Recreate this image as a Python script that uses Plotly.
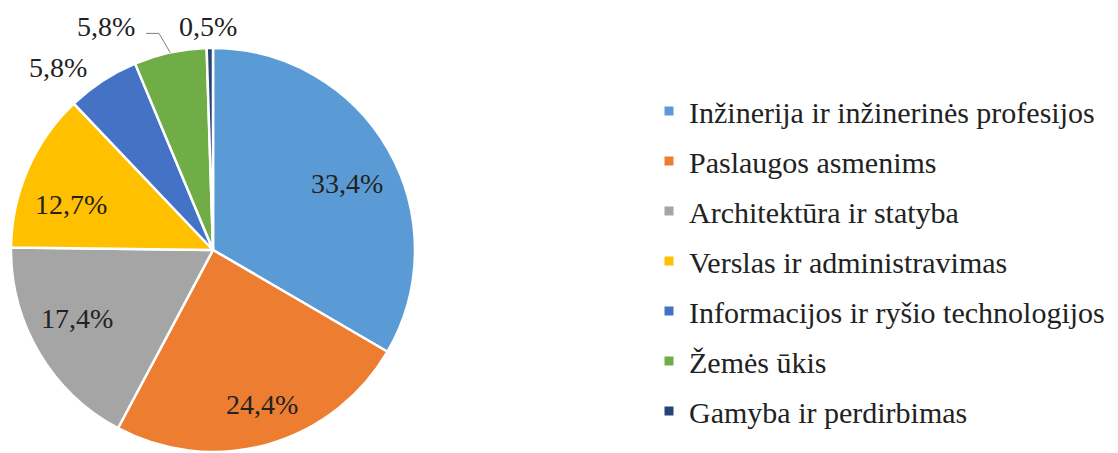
import math
import plotly.graph_objects as go

categories = [
    "Inžinerija ir inžinerinės profesijos",
    "Paslaugos asmenims",
    "Architektūra ir statyba",
    "Verslas ir administravimas",
    "Informacijos ir ryšio technologijos",
    "Žemės ūkis",
    "Gamyba ir perdirbimas",
]
values = [33.4, 24.4, 17.4, 12.7, 5.8, 5.8, 0.5]
colors = ["#5B9BD5", "#ED7D31", "#A5A5A5", "#FFC000", "#4472C4", "#70AD47", "#264478"]
label_outside = [False, False, False, False, True, True, True]

W, H = 1118, 453
OFF = 8  # page body margin in the browser
FONT = "Liberation Serif"
TXT = "#222222"

# pie geometry in screen pixels
CX, CY, R = 213, 250, 202
# label placement styling (radial factor + pixel nudges)
K_IN, K_OUT = 0.77, 1.12
nudges = [(-1, 11), (7, 5), (-2, -11), (1, 17), (-31, 7), (-59, -2), (-1, 3)]


def px(x):
    return (x - OFF) / W


def py(y):
    return 1 - (y - OFF) / H


labels_txt = [f"{v:.1f}".replace(".", ",") + "%" for v in values]

fig = go.Figure()
fig.add_trace(go.Pie(
    labels=categories,
    values=values,
    textinfo="none",
    sort=False,
    direction="clockwise",
    rotation=0,
    marker=dict(colors=colors, line=dict(color="white", width=2.5)),
    domain=dict(x=[px(CX - R), px(CX + R)], y=[py(CY + R), py(CY - R)]),
    showlegend=False,
    automargin=False,
    hoverinfo="label+percent",
))

# slice labels derived from slice mid-angles
total = sum(values)
cum = 0.0
annotations = []
shapes = []
for i, v in enumerate(values):
    mid = (cum + v / 2) / total * 2 * math.pi
    cum += v
    sx, sy = math.sin(mid), -math.cos(mid)
    k = K_OUT if label_outside[i] else K_IN
    lx = CX + sx * R * k + nudges[i][0]
    ly = CY + sy * R * k + nudges[i][1]
    annotations.append(dict(
        x=px(lx), y=py(ly), xref="paper", yref="paper",
        text=labels_txt[i], showarrow=False,
        xanchor="center", yanchor="middle",
        font=dict(family=FONT, size=28, color=TXT),
    ))
    if i == 5:
        # leader line from label to slice edge
        x0, y0 = lx + 40, ly + 6.5
        x1, y1 = x0 + 13, y0
        x2, y2 = CX + sx * R, CY + sy * R
        shapes.append(dict(
            type="path", xref="paper", yref="paper",
            path=f"M {px(x0)},{py(y0)} L {px(x1)},{py(y1)} L {px(x2)},{py(y2)}",
            line=dict(color="#7f7f7f", width=1),
        ))

for i, (cat, col) in enumerate(zip(categories, colors)):
    fig.add_trace(go.Scatter(
        x=[None], y=[None], mode="markers",
        marker=dict(symbol="square", size=9, color=col),
        name=cat, legendgroup=f"g{i}", showlegend=True,
    ))

fig.update_layout(
    width=W, height=H,
    margin=dict(l=0, r=0, t=0, b=0, autoexpand=False),
    paper_bgcolor="white", plot_bgcolor="white",
    font=dict(family=FONT, color=TXT),
    xaxis=dict(visible=False), yaxis=dict(visible=False),
    annotations=annotations,
    shapes=shapes,
    legend=dict(
        x=641 / W, xanchor="left", y=1 - 77 / H, yanchor="top",
        font=dict(family=FONT, size=30, color=TXT),
        tracegroupgap=8, bgcolor="rgba(0,0,0,0)",
        itemclick=False, itemdoubleclick=False,
    ),
)

fig.write_html("out.html")
